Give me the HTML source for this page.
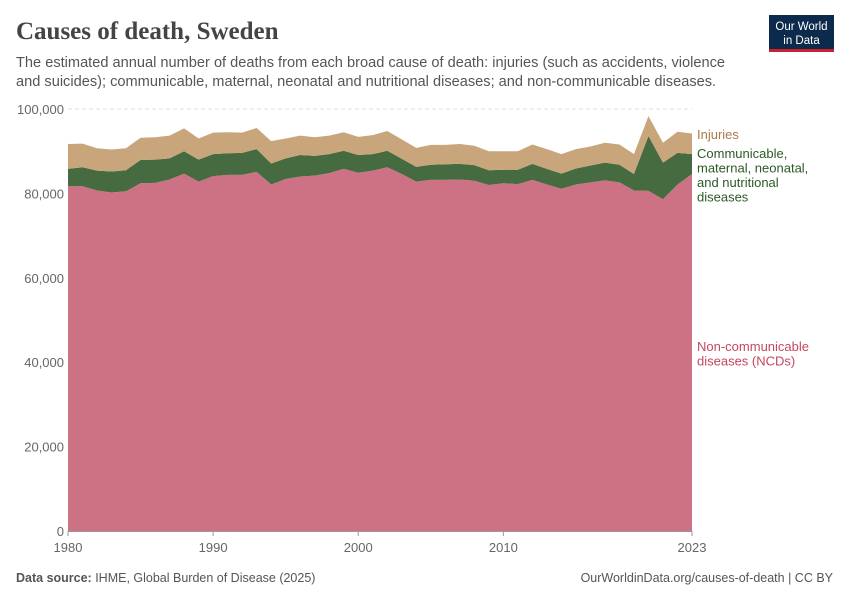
<!DOCTYPE html>
<html><head><meta charset="utf-8"><style>
body{margin:0;background:#fff;font-family:"Liberation Sans",sans-serif}
svg text{font-family:"Liberation Sans",sans-serif}
</style></head><body>
<svg id="c" width="850" height="600" xmlns="http://www.w3.org/2000/svg">
<text x="16" y="39" font-size="25" font-weight="bold" fill="#444" style="font-family:'Liberation Serif',serif">Causes of death, Sweden</text>
<text x="16" y="67" font-size="14.6" fill="#555">The estimated annual number of deaths from each broad cause of death: injuries (such as accidents, violence</text>
<text x="16" y="86" font-size="14.6" fill="#555">and suicides); communicable, maternal, neonatal and nutritional diseases; and non-communicable diseases.</text>
<g><rect x="769" y="15" width="65" height="37" fill="#0c2a4c"/><rect x="769" y="49" width="65" height="3" fill="#c8202e"/>
<text x="801.5" y="30" font-size="11.5" fill="#fff" text-anchor="middle">Our World</text><text x="801.5" y="44" font-size="11.5" fill="#fff" text-anchor="middle">in Data</text></g>
<g id="grid"></g><g id="areas"></g><g id="axes"></g>
<text x="16" y="582" font-size="12.5" fill="#555"><tspan font-weight="bold">Data source:</tspan> IHME, Global Burden of Disease (2025)</text>
<text x="833" y="582" font-size="12.5" fill="#555" text-anchor="end">OurWorldinData.org/causes-of-death | CC BY</text>
</svg>
<script>
const years=[];for(let y=1980;y<=2023;y++)years.push(y);
const ncd=[81.7,81.7,80.7,80.2,80.5,82.4,82.5,83.3,84.7,82.8,84.1,84.4,84.4,85.1,82.1,83.4,84.0,84.2,84.8,85.8,84.9,85.4,86.2,84.6,82.8,83.2,83.2,83.3,83.0,82.0,82.4,82.2,83.2,82.1,81.1,82.1,82.6,83.1,82.6,80.7,80.6,78.6,82.1,84.6];
const comm=[4.1,4.5,4.7,5.0,5.0,5.5,5.5,5.0,5.3,5.2,5.2,5.1,5.2,5.4,5.0,4.9,5.1,4.7,4.5,4.3,4.2,3.9,3.9,3.6,3.5,3.6,3.7,3.7,3.7,3.5,3.2,3.4,3.8,3.7,3.6,3.8,4.0,4.2,4.2,3.9,13.0,8.7,7.5,4.7];
const inj=[5.9,5.6,5.3,5.2,5.2,5.3,5.3,5.4,5.4,5.0,5.1,5.0,4.8,5.0,5.3,4.7,4.6,4.4,4.4,4.4,4.3,4.5,4.7,4.6,4.5,4.7,4.6,4.7,4.6,4.5,4.4,4.4,4.6,4.7,4.6,4.6,4.5,4.7,4.8,4.7,4.7,4.7,5.0,4.9];
const yTicks=[0,20000,40000,60000,80000,100000];
const xTicks=[1980,1990,2000,2010,2023];
const NS='http://www.w3.org/2000/svg';
const X0=68,X1=692,Y0=531,Y1=109;
const xs=y=>X0+(y-1980)/(2023-1980)*(X1-X0);
const ys=v=>Y0-v/100000*(Y0-Y1);
function mk(t,a,p){const e=document.createElementNS(NS,t);for(const k in a)e.setAttribute(k,a[k]);p.appendChild(e);return e;}
const grid=document.getElementById('grid'),areas=document.getElementById('areas'),axes=document.getElementById('axes');
yTicks.forEach(v=>{
 if(v>0){const l=mk('line',{x1:X0,x2:X1,y1:ys(v),y2:ys(v),stroke:'#ddd','stroke-dasharray':'4,3'},grid);
 
 }
 const t=mk('text',{x:64,y:ys(v)+5,'font-size':13,fill:'#666','text-anchor':'end'},axes);t.textContent=v.toLocaleString('en-US');
 
 
});
const base=years.map(()=>0);
const series=[[ncd,'#cd7285','ncd-area'],[comm,'#476b41','communicable-area'],[inj,'#c8a57a','injuries-area']];
series.forEach(([vals,col,name])=>{
 const top=base.map((b,i)=>b+vals[i]*1000);
 let d='M'+years.map((y,i)=>xs(y)+','+ys(top[i])).join('L');
 for(let i=years.length-1;i>=0;i--)d+='L'+xs(years[i])+','+ys(base[i]);
 const p=mk('path',{d:d+'Z',fill:col},areas);
 
 
 top.forEach((v,i)=>base[i]=v);
});
mk('line',{x1:X0,x2:X1,y1:Y0+0.5,y2:Y0+0.5,stroke:'#999'},axes);
xTicks.forEach(y=>{
 mk('line',{x1:xs(y),x2:xs(y),y1:Y0,y2:Y0+5,stroke:'#999'},axes);
 const t=mk('text',{x:xs(y),y:552,'font-size':13,fill:'#666','text-anchor':'middle'},axes);t.textContent=y;
 
 
});
const labels=[['#a8794c',['Injuries'],139,'injuries-label'],['#2b5a25',['Communicable,','maternal, neonatal,','and nutritional','diseases'],158,'communicable-label'],['#c5475f',['Non-communicable','diseases (NCDs)'],351,'ncd-label']];
labels.forEach(([col,lines,y0,name])=>{
 const t=mk('text',{x:697,y:y0,'font-size':13,fill:col},axes);
 
 
 lines.forEach((s,i)=>{const ts=mk('tspan',{x:697,y:y0+i*14.5},t);ts.textContent=s;});
});
</script>
</body></html>
